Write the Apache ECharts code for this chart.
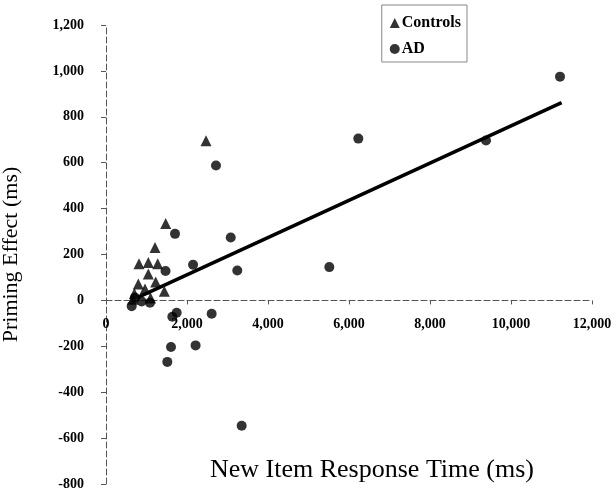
<!DOCTYPE html>
<html>
<head>
<meta charset="utf-8">
<script src="https://cdn.jsdelivr.net/npm/echarts@6/dist/echarts.min.js"></script>
<style>
html,body{margin:0;padding:0;background:#fff;}
#chart{width:616px;height:493px;}
</style>
</head>
<body>
<div id="chart"></div>
<script>
// Controls: [New Item RT (ms), Priming Effect (ms)]
var controlsX = [2469, 1474, 1210, 815, 1045, 1276, 1045, 798, 1227, 963, 1440, 700, 660, 1100];
var controlsY = [696, 335, 231, 160, 165, 160, 115, 72, 80, 50, 40, 30, 5, 10];
// AD patients
var adX = [11210, 6230, 9383, 2716, 1704, 3080, 2150, 1470, 5514, 3242, 634, 880, 1086, 716, 1745, 1638, 2609, 1605, 2212, 1514, 3350];
var adY = [975, 705, 697, 588, 290, 274, 155, 128, 145, 130, -25, -5, -10, 12, -54, -71, -58, -203, -196, -268, -546];
// Regression line end points
var fitX = [800, 11250];
var fitY = [14, 862];
// Axis settings [min, max, interval]
var xTicks = [0, 12000, 2000];
var yTicks = [-800, 1200, 200];

function pairs(xs, ys){ return xs.map(function(x,i){ return [x, ys[i]]; }); }

var W = 616, H = 493;
var gTop = 25, gBottom = 9, gLeft = 106, gRight = 24;
var gH = H - gTop - gBottom;
// distance from grid bottom to y = 0, so the x axis sits on zero
var zeroOffset = gH * (0 - yTicks[0]) / (yTicks[1] - yTicks[0]);

var serif = "'Liberation Serif','Times New Roman',serif";
var chart = echarts.init(document.getElementById('chart'), null, {renderer:'canvas'});
chart.setOption({
  animation: false,
  backgroundColor: '#fff',
  grid: {left:gLeft, right:gRight, top:gTop, bottom:gBottom, containLabel:false, outerBoundsMode:'none'},
  legend: {
    data: [{name:'Controls', icon:'triangle'}, {name:'AD', icon:'circle'}],
    orient: 'vertical',
    right: 149, top: 5,
    padding: [10, 6, 5, 8],
    itemGap: 10,
    itemWidth: 10, itemHeight: 10,
    borderColor: '#888', borderWidth: 1,
    textStyle: {fontFamily: serif, fontSize: 16, fontWeight: 'bold', color: '#000', padding:[0,0,0,-3]}
  },
  xAxis: {
    type: 'value', min: xTicks[0], max: xTicks[1], interval: xTicks[2],
    position: 'bottom', offset: -zeroOffset,
    name: 'New Item Response Time (ms)', nameLocation: 'middle', nameGap: 157,
    nameTextStyle: {fontFamily: serif, fontSize: 26, color: '#000', padding: [0, 0, 0, 46]},
    axisLine: {onZero: false, lineStyle: {color: '#555', width: 1, type: [6, 3]}},
    axisTick: {show: true, length: 4, lineStyle: {color: '#555'}},
    axisLabel: {fontFamily: serif, fontSize: 14, fontWeight: 'bold', color: '#000', margin: 17,
      formatter: function(v){ return v.toLocaleString('en-US'); }},
    splitLine: {show: false}
  },
  yAxis: {
    type: 'value', min: yTicks[0], max: yTicks[1], interval: yTicks[2],
    name: 'Priming Effect (ms)', nameLocation: 'middle', nameGap: 84, nameRotate: 90,
    nameTextStyle: {fontFamily: serif, fontSize: 22, color: '#000'},
    axisLine: {onZero: false, lineStyle: {color: '#555', width: 1, type: [6, 3]}},
    axisTick: {show: true, length: 5, lineStyle: {color: '#555'}},
    axisLabel: {fontFamily: serif, fontSize: 14, fontWeight: 'bold', color: '#000', margin: 22,
      formatter: function(v){ return v.toLocaleString('en-US'); }},
    splitLine: {show: false}
  },
  series: [
    {name: 'Controls', type: 'scatter', symbol: 'triangle', symbolSize: 11,
     itemStyle: {color: '#000'}, data: pairs(controlsX, controlsY), z: 3},
    {name: 'AD', type: 'scatter', symbol: 'circle', symbolSize: 10,
     itemStyle: {color: '#000'}, data: pairs(adX, adY), z: 3},
    {name: 'Fit', type: 'line', symbol: 'none', silent: true,
     lineStyle: {color: '#000', width: 3.5}, data: pairs(fitX, fitY), z: 2}
  ]
});
</script>
</body>
</html>
